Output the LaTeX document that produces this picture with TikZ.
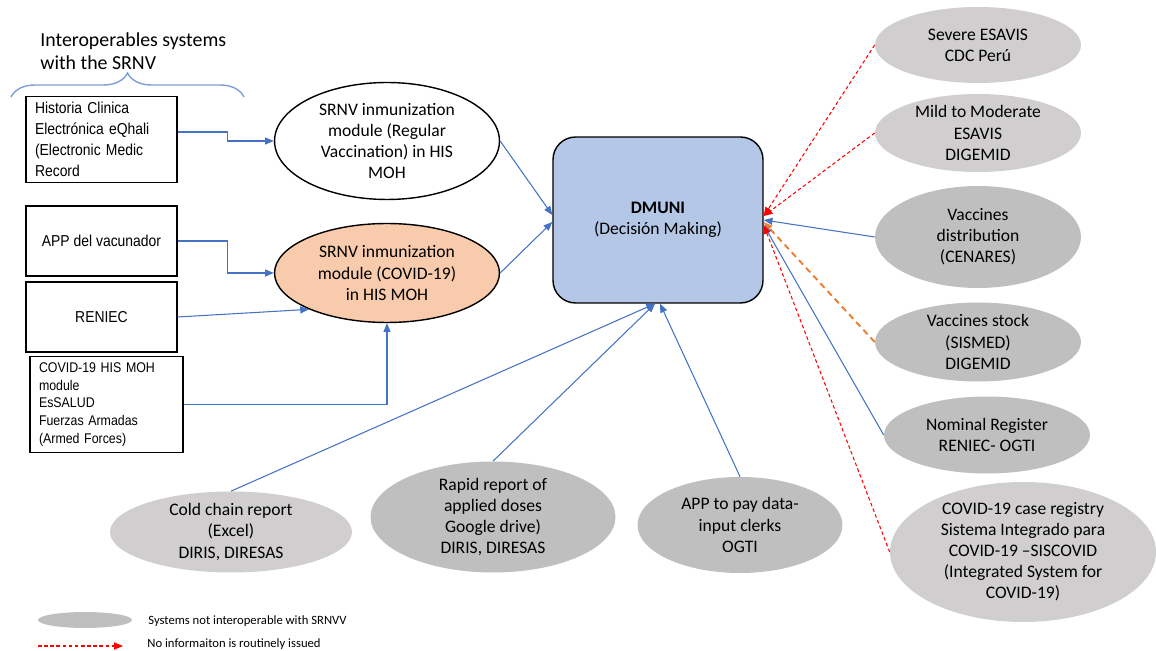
\documentclass[tikz,border=0pt]{standalone}
\usepackage{fontspec}
\setmainfont{Carlito}
\newfontfamily\boxfont[FakeStretch=0.88]{Liberation Sans}
\usetikzlibrary{shapes.geometric,arrows.meta,decorations.pathreplacing}

\definecolor{linkblue}{HTML}{4472C4}
\definecolor{bracecol}{HTML}{7F9ED6}
\definecolor{peach}{HTML}{F8CBAD}
\definecolor{dmblue}{HTML}{B4C7E7}
\definecolor{grayA}{HTML}{D0CECE}
\definecolor{grayB}{HTML}{BFBFBF}
\definecolor{stockorange}{HTML}{ED7D31}

\begin{document}
\begin{tikzpicture}[x=0.02cm, y=-0.02cm,
  txt/.style={font=\fontsize{10}{12}\selectfont, align=center},
  box/.style={draw, line width=0.8pt, font=\boxfont\fontsize{9}{11.9}\selectfont,
    minimum width=3.02cm, minimum height=1.4cm},
  oval/.style={ellipse, inner xsep=0pt, inner ysep=-1pt, txt},
  sysA/.style={oval, fill=grayA},
  sysB/.style={oval, fill=grayB},
  link/.style={linkblue, line width=0.6pt, -{Triangle[length=5pt,width=4pt]}},
  noinfo/.style={red, line width=0.6pt, dash pattern=on 2pt off 1.5pt, -{Triangle[length=5pt,width=4pt]}},
  stockln/.style={stockorange, line width=1.1pt, dash pattern=on 3.5pt off 2.5pt, -{Triangle[length=5pt,width=4pt]}}]

\useasboundingbox (0,0) rectangle (1156,651);

\node[anchor=north west, inner sep=0pt, align=left, font=\fontsize{11.3}{13.3}\selectfont]
  (title) at (40,32) {Interoperables systems\\with the  SRNV};
\draw[bracecol, line width=0.8pt, decorate, decoration={brace, amplitude=0.48cm}] (11,97) -- (244,97);

\node[box, minimum height=1.7cm, text width=2.66cm, inner xsep=0.18cm, align=left] (hc) at (101.5,139.5)
  {Historia Clinica\\Electrónica eQhali\\(Electronic Medic\\Record};
\node[box] (app) at (101.5,241) {APP del vacunador};
\node[box] (ren) at (101.5,317) {RENIEC};
\node[box, minimum height=1.9cm, text width=2.7cm, inner xsep=0.18cm, align=left,
  font=\boxfont\fontsize{8}{10.2}\selectfont] (his) at (106.5,404.5)
  {COVID-19 HIS MOH\\module\\EsSALUD\\Fuerzas Armadas\\(Armed Forces)};

\node[oval, draw, line width=0.8pt, fill=white, minimum width=4.5cm, minimum height=2.34cm] (e1) at (387,141)
  {SRNV inmunization\\module (Regular\\Vaccination) in HIS\\MOH};
\node[oval, draw, line width=0.8pt, fill=peach, minimum width=4.5cm, minimum height=1.98cm] (e2) at (387,273)
  {SRNV inmunization\\module (COVID-19)\\in HIS MOH};

\node[draw, line width=0.8pt, fill=dmblue, rounded corners=0.45cm, txt,
  minimum width=4.2cm, minimum height=3.32cm] (dm) at (658,220)
  {\textbf{DMUNI}\\(Decisión Making)};

\node[sysA, minimum width=4.12cm, minimum height=1.52cm] (sev) at (978,45) {Severe ESAVIS\\CDC Perú};
\node[sysA, minimum width=4.12cm, minimum height=1.56cm] (mild) at (978,133) {Mild to Moderate\\ESAVIS\\DIGEMID};
\node[sysB, minimum width=4.12cm, minimum height=2.04cm] (dist) at (978,237) {Vaccines\\distribution\\(CENARES)};
\node[sysB, minimum width=4.12cm, minimum height=1.58cm] (stock) at (978,342) {Vaccines stock\\(SISMED)\\DIGEMID};
\node[sysB, minimum width=4.12cm, minimum height=1.54cm] (nom) at (987,435) {Nominal Register\\RENIEC- OGTI};
\node[sysA, minimum width=5.32cm, minimum height=2.8cm] (covreg) at (1023,552)
  {COVID-19 case registry\\Sistema Integrado para\\COVID-19 –SISCOVID\\(Integrated System for\\COVID-19)};

\node[sysA, minimum width=4.84cm, minimum height=1.62cm] (cold) at (231,532) {Cold chain report\\(Excel)\\DIRIS, DIRESAS};
\node[sysB, minimum width=4.9cm, minimum height=2.22cm] (rapid) at (493,517)
  {Rapid report of\\applied doses\\Google drive)\\DIRIS, DIRESAS};
\node[sysB, minimum width=4.1cm, minimum height=1.92cm] (pay) at (740,525) {APP to pay data-\\input clerks\\OGTI};

\draw[link] ([yshift=0.15cm]hc.east) -- ++(50,0) |- (e1.west);
\draw[link] (app.east) -- ++(50,0) |- (e2.west);
\draw[link] (ren.east) -- (e2.205);
\draw[link] (his.east) -| (e2.south);
\draw[link] (e1.east) -- ([yshift=0.1cm]dm.west);
\draw[link] (e2.east) -- ([yshift=-0.04cm]dm.west);
\draw[link] (cold.north) -- ([xshift=-0.06cm]dm.south);
\draw[link] (rapid.north) -- ([xshift=-0.06cm]dm.south);
\draw[link] (pay.north) -- ([xshift=0.04cm]dm.south);
\draw[noinfo] (sev.west) -- ([yshift=0.08cm]dm.east);
\draw[noinfo] (mild.west) -- ([yshift=0.08cm]dm.east);
\draw[link] (dist.west) -- (dm.east);
\draw[stockln] (stock.west) -- ([yshift=-0.04cm]dm.east);
\draw[link] (nom.west) -- ([yshift=-0.1cm]dm.east);
\draw[noinfo] (covreg.west) -- ([yshift=-0.1cm]dm.east);

\node[ellipse, fill=grayB, inner sep=0pt, minimum width=1.88cm, minimum height=0.32cm] (lgsys) at (85,620) {};
\node[anchor=west, inner sep=0pt, font=\fontsize{7.2}{9}\selectfont] (lgsystxt) at (148,621)
  {Systems not interoperable with SRNVV};
\coordinate (lgA) at (38,646);
\coordinate (lgB) at (123,646);
\draw[noinfo] (lgA) -- (lgB);
\node[anchor=west, inner sep=0pt, font=\fontsize{7.2}{9}\selectfont] (lgnotxt) at (147,644)
  {No informaiton is routinely issued};

\end{tikzpicture}
\end{document}
